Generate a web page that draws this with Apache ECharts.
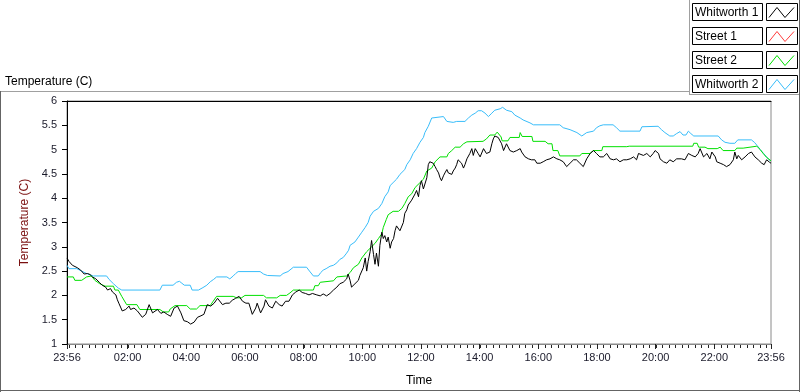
<!DOCTYPE html>
<html><head><meta charset="utf-8">
<script src="https://cdn.jsdelivr.net/npm/echarts@6/dist/echarts.min.js"></script>
<style>html,body{margin:0;padding:0;background:#fff}#c{width:800px;height:392px}</style>
</head><body><div id="c"></div>
<script>
// ---- data (x = minutes elapsed since 23:56, y = temperature in C) ----
const seriesNames = ['Whitworth 1', 'Street 1', 'Street 2', 'Whitworth 2'];
const seriesColors = ['#000000', '#ff3b3b', '#00e000', '#38bdfa'];
const startClock = '23:56';
const xTickLabels = ['23:56','02:00','04:00','06:00','08:00','10:00','12:00','14:00','16:00','18:00','20:00','22:00','23:56'];
const yMin = 1, yMax = 6, yStep = 0.5;
const minorTicksPerMajor = 9;

const whitworth1 = [
[0,2.77],[4,2.70],[11,2.62],[21,2.57],[28,2.52],[35,2.44],[38,2.41],[42,2.45],[47,2.43],[52,2.38],[59,2.34],[66,2.27],[72,2.21],[79,2.17],[83,2.11],[89,2.14],[93,2.07],[100,2.01],[103,1.91],[106,1.84],[113,1.68],[120,1.71],[127,1.78],[130,1.71],[137,1.74],[144,1.68],[147,1.71],[154,1.55],[161,1.61],[168,1.81],[171,1.84],[175,1.64],[178,1.61],[185,1.71],[192,1.63],[198,1.66],[205,1.61],[212,1.57],[219,1.74],[226,1.78],[233,1.64],[239,1.48],[246,1.46],[253,1.41],[260,1.45],[267,1.55],[274,1.58],[280,1.61],[287,1.81],[294,1.78],[301,1.84],[308,1.94],[311,1.91],[318,1.81],[325,1.84],[332,1.84],[338,1.90],[345,1.94],[352,1.98],[359,1.88],[366,1.84],[372,1.84],[379,1.61],[386,1.74],[389,1.84],[396,1.64],[403,1.78],[406,1.91],[413,1.78],[420,1.74],[427,1.88],[434,1.81],[440,1.78],[447,1.88],[454,1.88],[461,2.01],[468,2.07],[475,2.11],[481,2.06],[488,2.04],[495,2.01],[502,2.04],[505,2.01],
[511,2.01],[518,1.99],[524,2.03],[531,1.99],[538,2.04],[545,2.11],[552,2.17],[558,2.24],[565,2.27],[572,2.34],[575,2.44],[579,2.31],[582,2.17],[589,2.24],[596,2.31],[599,2.41],[606,2.57],[610,2.77],[613,2.50],[616,2.70],[620,2.90],[623,3.13],[627,2.84],[630,2.64],[633,2.87],[637,2.60],[640,3.03],[644,3.30],[647,3.17],[650,3.23],[654,3.10],[657,3.20],[661,2.97],[664,3.10],[668,3.17],[671,3.33],[674,3.43],[678,3.40],[681,3.33],[685,3.30],[688,3.50],[691,3.69],[695,3.76],[698,3.86],[702,3.83],[705,3.96],[708,3.96],[712,4.09],[715,4.16],[719,4.03],[722,4.26],[725,4.36],[729,4.19],[732,4.16],[736,4.42],[739,4.69],[742,4.75],[746,4.79],[749,4.72],[753,4.65],[756,4.59],[760,4.52],[763,4.42],[766,4.36],[770,4.46],[773,4.52],[777,4.59],[780,4.52],[783,4.56],[787,4.49],[790,4.56],[794,4.62],[797,4.69],[800,4.79],[804,4.81],[807,4.72],[811,4.62],[814,4.69],[818,4.81],[821,4.85],[824,4.92],[828,5.02],[831,4.88],[835,5.02],[838,5.05],[841,4.92],[845,4.85],
[852,5.02],[858,4.92],[865,4.95],[869,5.12],[872,5.22],[875,5.28],[882,5.25],[886,5.22],[889,5.12],[893,4.98],[896,5.02],[899,5.12],[906,4.98],[913,4.95],[920,4.98],[927,5.02],[930,4.95],[937,4.85],[944,4.81],[950,4.79],[957,4.79],[961,4.72],[968,4.72],[974,4.75],[981,4.79],[988,4.81],[995,4.85],[1002,4.81],[1008,4.79],[1015,4.75],[1022,4.65],[1025,4.62],[1029,4.72],[1036,4.79],[1042,4.79],[1049,4.72],[1056,4.65],[1060,4.62],[1063,4.81],[1070,4.92],[1077,4.98],[1083,4.92],[1090,4.85],[1097,4.85],[1104,4.92],[1111,4.81],[1118,4.79],[1124,4.81],[1131,4.75],[1138,4.79],[1145,4.79],[1152,4.81],
[1159,4.85],[1165,4.79],[1169,4.92],[1172,4.95],[1179,4.88],[1186,4.92],[1193,4.85],[1199,4.92],[1203,4.98],[1210,4.92],[1213,4.81],[1220,4.75],[1227,4.72],[1233,4.79],[1240,4.75],[1247,4.81],[1251,4.85],[1257,4.81],[1264,4.79],[1271,4.92],[1278,4.88],[1285,4.85],[1291,4.92],[1295,5.02],[1302,4.85],[1309,4.92],[1315,4.81],[1319,4.95],[1326,4.85],[1329,4.75],[1336,4.72],[1343,4.69],[1349,4.65],[1356,4.69],[1363,4.79],[1366,4.95],[1370,4.81],[1373,4.88],[1380,4.79],[1387,4.85],[1394,4.92],[1400,4.95],[1407,4.85],[1414,4.79],[1421,4.72],[1426,4.69],[1431,4.79],[1437,4.74],[1440,4.72]
];

const street1 = [];

const street2 = [
[0,2.38],[13,2.38],[16,2.31],[30,2.31],[40,2.38],[50,2.40],[57,2.31],[67,2.24],[78,2.19],[95,2.19],[98,2.11],[105,2.11],[112,1.98],[122,1.81],[143,1.81],[149,1.71],[190,1.71],[197,1.66],[208,1.66],[211,1.72],[221,1.79],[245,1.79],[252,1.72],[265,1.72],[272,1.79],[293,1.79],[299,1.88],[306,1.98],[340,1.98],[347,1.95],[357,1.95],[364,2.00],[402,2.00],[408,1.95],[429,1.95],[436,2.00],[449,2.00],[456,2.05],[463,2.11],[504,2.11],[507,2.20],[514,2.20],[518,2.27],[545,2.30],[552,2.38],[572,2.40],[579,2.47],[586,2.57],[596,2.64],[603,2.77],[613,2.90],[623,3.00],[630,3.07],[637,3.17],[644,3.27],[647,3.40],[653,3.56],[657,3.66],[667,3.73],[678,3.73],[685,3.79],[691,3.89],[698,4.03],[705,4.09],[712,4.22],[722,4.32],[729,4.39],[736,4.56],[746,4.62],[753,4.75],[763,4.85],[777,4.85],[780,4.92],[787,4.98],[794,5.05],[804,5.05],[811,5.12],[818,5.16],[851,5.17],[858,5.22],[865,5.30],[875,5.30],[880,5.36],[884,5.36],[888,5.26],[890,5.18],[902,5.18],[906,5.25],[925,5.25],[927,5.35],[931,5.27],[951,5.27],[953,5.17],[978,5.17],[984,5.12],[992,5.12],[994,4.98],[1004,4.98],[1008,4.87],[1049,4.87],[1053,4.92],[1070,4.92],[1076,4.98],[1094,4.98],[1096,5.06],[1145,5.06],[1150,5.07],[1280,5.07],[1282,5.13],[1289,5.13],[1292,5.05],[1305,5.05],[1311,5.02],[1330,5.02],[1336,5.05],[1342,4.98],[1366,4.98],[1370,5.03],[1383,5.03],[1387,5.07],[1411,5.07],[1418,5.00],[1424,4.92],[1431,4.84],[1440,4.77]
];

const whitworth2 = [
[0,2.62],[4,2.55],[20,2.55],[30,2.50],[40,2.45],[54,2.40],[81,2.40],[86,2.33],[95,2.24],[105,2.15],[112,2.11],[190,2.11],[195,2.21],[217,2.21],[224,2.27],[230,2.29],[235,2.25],[240,2.21],[252,2.21],[256,2.11],[269,2.11],[278,2.16],[286,2.21],[293,2.28],[300,2.33],[306,2.38],[327,2.38],[333,2.34],[340,2.40],[345,2.45],[350,2.49],[395,2.49],[402,2.44],[410,2.41],[436,2.40],[442,2.45],[452,2.49],[463,2.58],[490,2.58],[496,2.50],[504,2.40],[514,2.40],[519,2.47],[524,2.52],[530,2.55],[538,2.60],[545,2.62],[552,2.67],[558,2.74],[565,2.78],[572,2.87],[576,2.93],[579,3.03],[589,3.10],[596,3.20],[603,3.30],[610,3.40],[616,3.50],[620,3.63],[627,3.73],[637,3.79],[644,3.89],[650,4.03],[657,4.13],[661,4.26],[667,4.32],[674,4.39],[681,4.49],[691,4.59],[695,4.69],[702,4.79],[708,4.92],[715,5.02],[722,5.15],[729,5.25],[732,5.35],[739,5.48],[746,5.65],[749,5.68],[770,5.68],[777,5.58],[790,5.56],[797,5.58],[814,5.58],[821,5.65],[828,5.71],[835,5.75],[841,5.80],[848,5.80],[855,5.75],[862,5.68],[869,5.75],[875,5.81],[886,5.84],[891,5.87],[899,5.81],[910,5.78],[916,5.71],[927,5.65],[933,5.61],[947,5.55],[954,5.51],[1008,5.51],[1015,5.45],[1029,5.41],[1043,5.35],[1053,5.28],[1063,5.35],[1077,5.38],[1083,5.45],[1090,5.49],[1097,5.51],[1117,5.51],[1124,5.45],[1131,5.38],[1172,5.38],[1176,5.47],[1209,5.48],[1216,5.41],[1223,5.35],[1233,5.28],[1240,5.28],[1247,5.33],[1254,5.37],[1260,5.30],[1266,5.30],[1271,5.38],[1276,5.33],[1282,5.28],[1332,5.28],[1339,5.20],[1346,5.15],[1356,5.13],[1366,5.13],[1372,5.20],[1400,5.20],[1406,5.15],[1412,5.08],[1418,5.00],[1424,4.93],[1431,4.85],[1436,4.79],[1440,4.77]
];

// ---- helpers ----
function clockToMin(s){ const p = s.split(':'); return (+p[0]) * 60 + (+p[1]); }
const startMin = clockToMin(startClock);
const majorTicks = xTickLabels.map((l, i) => {
  let e = ((clockToMin(l) - startMin) % 1440 + 1440) % 1440;
  if (i > 0 && e === 0) e = 1440;
  return e;
});
const xMax = majorTicks[majorTicks.length - 1];
const minorStep = (majorTicks[2] - majorTicks[1]) / minorTicksPerMajor;
const minorTicks = [];
{
  let t = majorTicks[1];
  while (t - minorStep > 0) t -= minorStep;
  for (; t <= xMax + 0.01; t += minorStep) minorTicks.push(+t.toFixed(3));
}
function fmtClock(v){
  const m = ((startMin + Math.round(v)) % 1440 + 1440) % 1440;
  const h = Math.floor(m / 60), mm = m % 60;
  return String(h).padStart(2, '0') + ':' + String(mm).padStart(2, '0');
}

const FONT = "'Liberation Sans', Arial, sans-serif";
const chart = echarts.init(document.getElementById('c'), null, {renderer: 'canvas'});

const allData = [whitworth1, street1, street2, whitworth2];
const drawOrder = [3, 2, 1, 0];
const series = drawOrder.map(i => ({
  name: seriesNames[i], type: 'line', data: allData[i], xAxisIndex: 0, yAxisIndex: 0,
  showSymbol: false, symbol: 'none', smooth: false, silent: true,
  lineStyle: {color: seriesColors[i], width: 1}, itemStyle: {color: seriesColors[i]},
  z: 10 - i
}));

// minor ticks on the time axis, placed through the axis scale
series.push({
  type: 'custom', name: 'minorTicks', xAxisIndex: 0, yAxisIndex: 0, silent: true, clip: false, z: 20,
  data: minorTicks.map(v => [v, yMin]),
  renderItem: function (params, api) {
    const p = api.coord([api.value(0), api.value(1)]);
    const x = Math.round(p[0]) + 0.5, y = Math.round(p[1]);
    return {type: 'line', shape: {x1: x, y1: y + 1, x2: x, y2: y + 4},
            style: {stroke: '#222', lineWidth: 1}};
  }
});

// legend drawn as boxed rows (LabVIEW style)
const legendGraphics = [];
seriesNames.forEach((n, i) => {
  const top = 3.5 + 24 * i;
  legendGraphics.push({type: 'rect', shape: {x: 692.5, y: top, width: 70, height: 17},
    style: {fill: '#fff', stroke: '#000', lineWidth: 1}, silent: true});
  legendGraphics.push({type: 'text', x: 695, y: top + 9,
    style: {text: n, fill: '#000', font: '12px ' + FONT, textVerticalAlign: 'middle', textAlign: 'left'}, silent: true});
  legendGraphics.push({type: 'rect', shape: {x: 766.5, y: top, width: 31, height: 17},
    style: {fill: '#fff', stroke: '#000', lineWidth: 1}, silent: true});
  legendGraphics.push({type: 'polyline', shape: {points: [[769, top + 14], [777, top + 4], [785, top + 14], [794, top + 4]]},
    style: {stroke: seriesColors[i], lineWidth: 1, fill: null}, silent: true});
});

const frameGraphics = [
  {type: 'line', shape: {x1: 0, y1: 91.5, x2: 690, y2: 91.5}, style: {stroke: '#a0a0a0', lineWidth: 1}, silent: true},
  {type: 'line', shape: {x1: 689.5, y1: 0, x2: 689.5, y2: 95}, style: {stroke: '#a0a0a0', lineWidth: 1}, silent: true},
  {type: 'line', shape: {x1: 689.5, y1: 94.5, x2: 800, y2: 94.5}, style: {stroke: '#a0a0a0', lineWidth: 1}, silent: true},
  {type: 'line', shape: {x1: 799.5, y1: 0, x2: 799.5, y2: 392}, style: {stroke: '#646464', lineWidth: 1}, silent: true},
  {type: 'line', shape: {x1: 0.5, y1: 91, x2: 0.5, y2: 392}, style: {stroke: '#646464', lineWidth: 1}, silent: true},
  {type: 'line', shape: {x1: 0, y1: 390.5, x2: 800, y2: 390.5}, style: {stroke: '#646464', lineWidth: 1}, silent: true},
  {type: 'text', x: 5, y: 82, style: {text: 'Temperature (C)', fill: '#000', font: '12px ' + FONT, textVerticalAlign: 'middle'}, silent: true}
];

chart.setOption({
  animation: false,
  backgroundColor: '#ffffff',
  grid: {left: 67, right: 29, top: 101, bottom: 39, show: true, borderColor: '#8a8a8a', borderWidth: 1, backgroundColor: '#fff'},
  xAxis: [
    {type: 'value', min: 0, max: xMax, position: 'bottom',
     axisLine: {show: true, lineStyle: {color: '#8a8a8a', width: 1}},
     axisTick: {show: true, customValues: majorTicks, length: 5, lineStyle: {color: '#222'}},
     axisLabel: {show: true, customValues: majorTicks, formatter: fmtClock, color: '#1a1a2a', fontFamily: FONT, fontSize: 11, margin: 8},
     splitLine: {show: false},
     name: 'Time', nameLocation: 'middle', nameGap: 31,
     nameTextStyle: {color: '#000', fontFamily: FONT, fontSize: 12}},
    {type: 'value', min: 0, max: xMax, position: 'top',
     axisLine: {show: true, lineStyle: {color: '#000', width: 1}},
     axisTick: {show: false}, axisLabel: {show: false}, splitLine: {show: false}}
  ],
  yAxis: [
    {type: 'value', min: yMin, max: yMax, interval: yStep, position: 'left',
     axisLine: {show: true, lineStyle: {color: '#000', width: 1}},
     axisTick: {show: true, length: 5, lineStyle: {color: '#000'}},
     axisLabel: {color: '#1a1a2a', fontFamily: FONT, fontSize: 11, margin: 10},
     splitLine: {show: false},
     name: 'Temperature (C)', nameLocation: 'middle', nameGap: 22, nameRotate: 90,
     nameTextStyle: {color: '#7a0f0f', fontFamily: FONT, fontSize: 12}}
  ],
  graphic: frameGraphics.concat(legendGraphics),
  series: series
});
</script>
</body></html>
